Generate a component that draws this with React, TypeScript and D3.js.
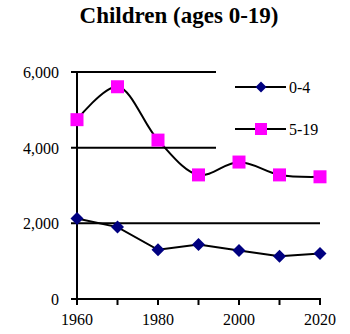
import React from "react";
import * as d3 from "d3";

const years = [1960, 1970, 1980, 1990, 2000, 2010, 2020];
const ages0to4 = [2130, 1900, 1300, 1440, 1280, 1130, 1200];
const ages5to19 = [4740, 5610, 4200, 3280, 3620, 3280, 3230];
const yTicks = [0, 2000, 4000, 6000];
const xLabels = [1960, 1980, 2000, 2020];
const seriesNames = ["0-4", "5-19"];

export default function App() {
  const W = 350, H = 334;
  const x = d3.scaleLinear().domain([1960, 2020]).range([77, 320]);
  const y = d3.scaleLinear().domain([0, 6000]).range([299, 72]);
  const fmt = d3.format(",");
  const lineBlue = d3.line<number>().x((_, i) => x(years[i])).y((d) => y(d));
  const linePink = d3
    .line<number>()
    .x((_, i) => x(years[i]))
    .y((d) => y(d))
    .curve(d3.curveCatmullRom.alpha(0.5));
  const ff = { fontFamily: "'Liberation Serif', 'Times New Roman', Times, serif" };
  const diamond = (cx: number, cy: number, r: number) =>
    `M${cx},${cy - r}L${cx + r},${cy}L${cx},${cy + r}L${cx - r},${cy}Z`;
  const navy = "#000080";
  const pink = "#FF00FF";
  return (
    <svg width={W} height={H} style={{ position: "absolute", left: 0, top: 0 }}>
      <rect width={W} height={H} fill="#fff" />
      <text x={179} y={23} textAnchor="middle" fontSize={23} fontWeight="bold" style={ff}>
        Children (ages 0-19)
      </text>
      {yTicks.filter((t) => t > 0).map((t) => (
        <line key={t} x1={71} x2={320} y1={y(t)} y2={y(t)} stroke="#000" strokeWidth={2} />
      ))}
      <rect x={216} y={60} width={134} height={150} fill="#fff" />
      <line x1={77} x2={77} y1={y(6000)} y2={y(0)} stroke="#000" strokeWidth={2} />
      <line x1={71} x2={77} y1={y(0)} y2={y(0)} stroke="#000" strokeWidth={2} />
      {yTicks.map((t) => (
        <text key={t} x={59} y={y(t) + 6} textAnchor="end" fontSize={16} style={ff}>
          {fmt(t)}
        </text>
      ))}
      <line x1={76} x2={321} y1={y(0)} y2={y(0)} stroke="#000" strokeWidth={2} />
      {years.map((yr) => (
        <line key={yr} x1={x(yr)} x2={x(yr)} y1={y(0)} y2={y(0) + 6} stroke="#000" strokeWidth={2} />
      ))}
      {xLabels.map((yr) => (
        <text key={yr} x={x(yr)} y={325} textAnchor="middle" fontSize={16} style={ff}>
          {yr}
        </text>
      ))}
      <path d={lineBlue(ages0to4) || ""} fill="none" stroke="#000" strokeWidth={2} />
      <path d={linePink(ages5to19) || ""} fill="none" stroke="#000" strokeWidth={2} />
      {ages0to4.map((v, i) => (
        <path key={i} d={diamond(x(years[i]), y(v), 6.5)} fill={navy} />
      ))}
      {ages5to19.map((v, i) => (
        <rect key={i} x={x(years[i]) - 6.5} y={y(v) - 6.5} width={13} height={13} fill={pink} />
      ))}
      <line x1={235} x2={286} y1={87} y2={87} stroke="#000" strokeWidth={2} />
      <path d={diamond(261, 87, 5.5)} fill={navy} />
      <text x={289} y={92.5} fontSize={16} style={ff}>{seriesNames[0]}</text>
      <line x1={235} x2={286} y1={129} y2={129} stroke="#000" strokeWidth={2} />
      <rect x={255} y={123} width={12} height={12} fill={pink} />
      <text x={289} y={134.5} fontSize={16} style={ff}>{seriesNames[1]}</text>
    </svg>
  );
}
